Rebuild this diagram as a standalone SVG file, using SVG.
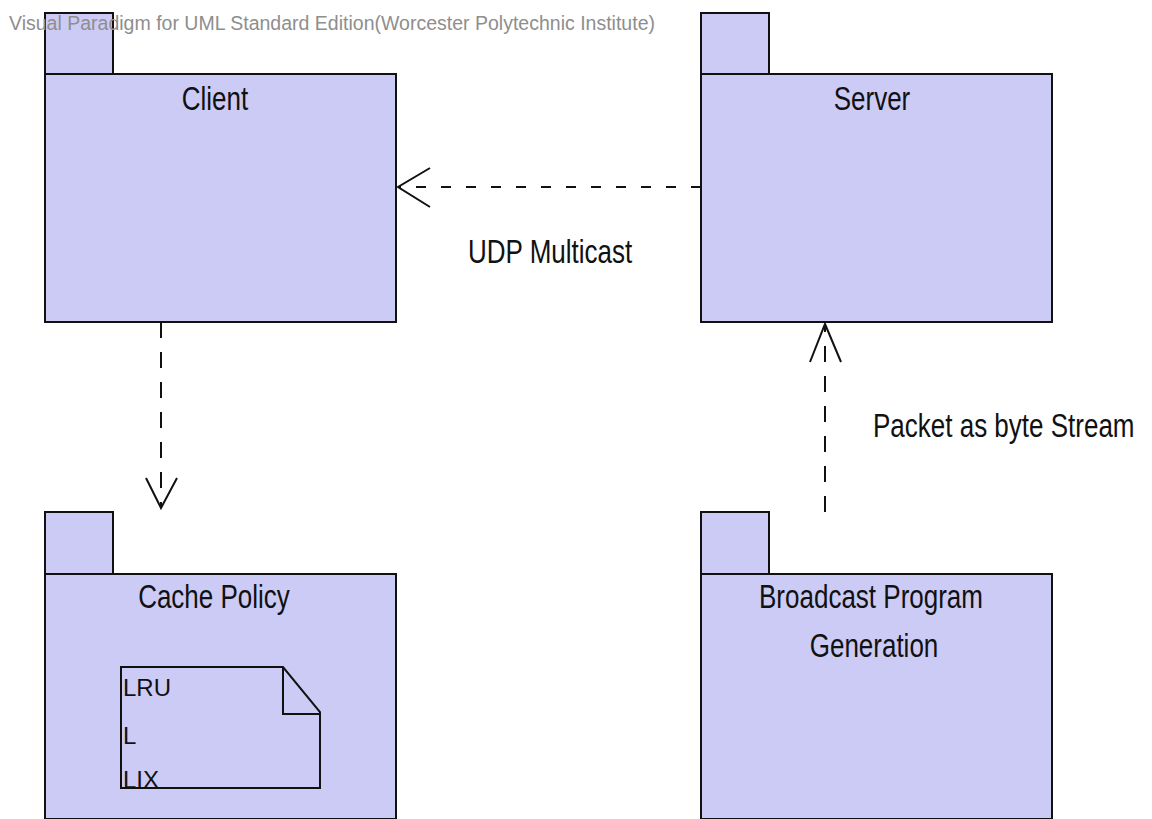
<svg xmlns="http://www.w3.org/2000/svg" width="1152" height="819" viewBox="0 0 1152 819">
  <style>
    .pkg { fill: #cccbf6; stroke: #111; stroke-width: 2; }
    .lbl { font-family: "Liberation Sans", Arial, sans-serif; font-size: 26px; fill: #111; }
    .mid { text-anchor: middle; }
    .dep { fill: none; stroke: #111; stroke-width: 2; }
    .dash-h { stroke-dasharray: 10 15; }
    .dash-v { stroke-dasharray: 16 14; }
    .note { fill: #cccbf6; stroke: #111; stroke-width: 2; }
    .notetxt { font-family: "Liberation Sans", Arial, sans-serif; font-size: 24px; fill: #111; }
    .wm { font-family: "Liberation Sans", Arial, sans-serif; font-size: 16px; fill: #8e8e8e; }
  </style>

  <rect width="1152" height="819" fill="#ffffff"/>

  <!-- Client package -->
  <g id="client">
    <rect class="pkg" x="45" y="13" width="68" height="61"/>
    <rect class="pkg" x="45" y="74" width="351" height="248"/>
    <text class="lbl mid" transform="translate(215,110) scale(1,1.25)">Client</text>
  </g>

  <!-- Server package -->
  <g id="server">
    <rect class="pkg" x="701" y="13" width="68" height="61"/>
    <rect class="pkg" x="701" y="74" width="351" height="248"/>
    <text class="lbl mid" transform="translate(872,110) scale(1,1.25)">Server</text>
  </g>

  <!-- Cache Policy package with note -->
  <g id="cache-policy">
    <rect class="pkg" x="45" y="512" width="68" height="62"/>
    <rect class="pkg" x="45" y="574" width="351" height="245"/>
    <text class="lbl mid" transform="translate(214,608) scale(1,1.25)">Cache Policy</text>
    <g id="cache-note">
      <path class="note" d="M121,667 H283 L320,712 V788 H121 Z"/>
      <path class="dep" d="M283,667 V714 H320"/>
      <text class="notetxt" x="123" y="696">LRU</text>
      <text class="notetxt" x="123" y="744">L</text>
      <text class="notetxt" x="123" y="788">LIX</text>
    </g>
  </g>

  <!-- Broadcast Program Generation package -->
  <g id="broadcast">
    <rect class="pkg" x="701" y="512" width="68" height="62"/>
    <rect class="pkg" x="701" y="574" width="351" height="245"/>
    <text class="lbl mid" transform="translate(871,608) scale(1,1.25)">Broadcast Program</text>
    <text class="lbl mid" transform="translate(874,657) scale(1,1.25)">Generation</text>
  </g>

  <!-- Dependencies -->
  <g id="connectors">
    <line class="dep dash-h" x1="701" y1="187" x2="398" y2="187"/>
    <polyline class="dep" points="430,168 398,187 430,207"/>
    <text class="lbl" transform="translate(468,263) scale(1,1.25)">UDP Multicast</text>

    <line class="dep dash-v" x1="161" y1="322" x2="161" y2="506"/>
    <polyline class="dep" points="146,478 161,508 177,478"/>

    <line class="dep dash-v" x1="825" y1="512" x2="825" y2="325"/>
    <polyline class="dep" points="810,362 825,324 841,362"/>
    <text class="lbl" transform="translate(873,437) scale(1,1.25)">Packet as byte Stream</text>
  </g>

  <text class="wm" transform="translate(9,30) scale(1,1.3)" textLength="646" lengthAdjust="spacingAndGlyphs">Visual Paradigm for UML Standard Edition(Worcester Polytechnic Institute)</text>
</svg>
